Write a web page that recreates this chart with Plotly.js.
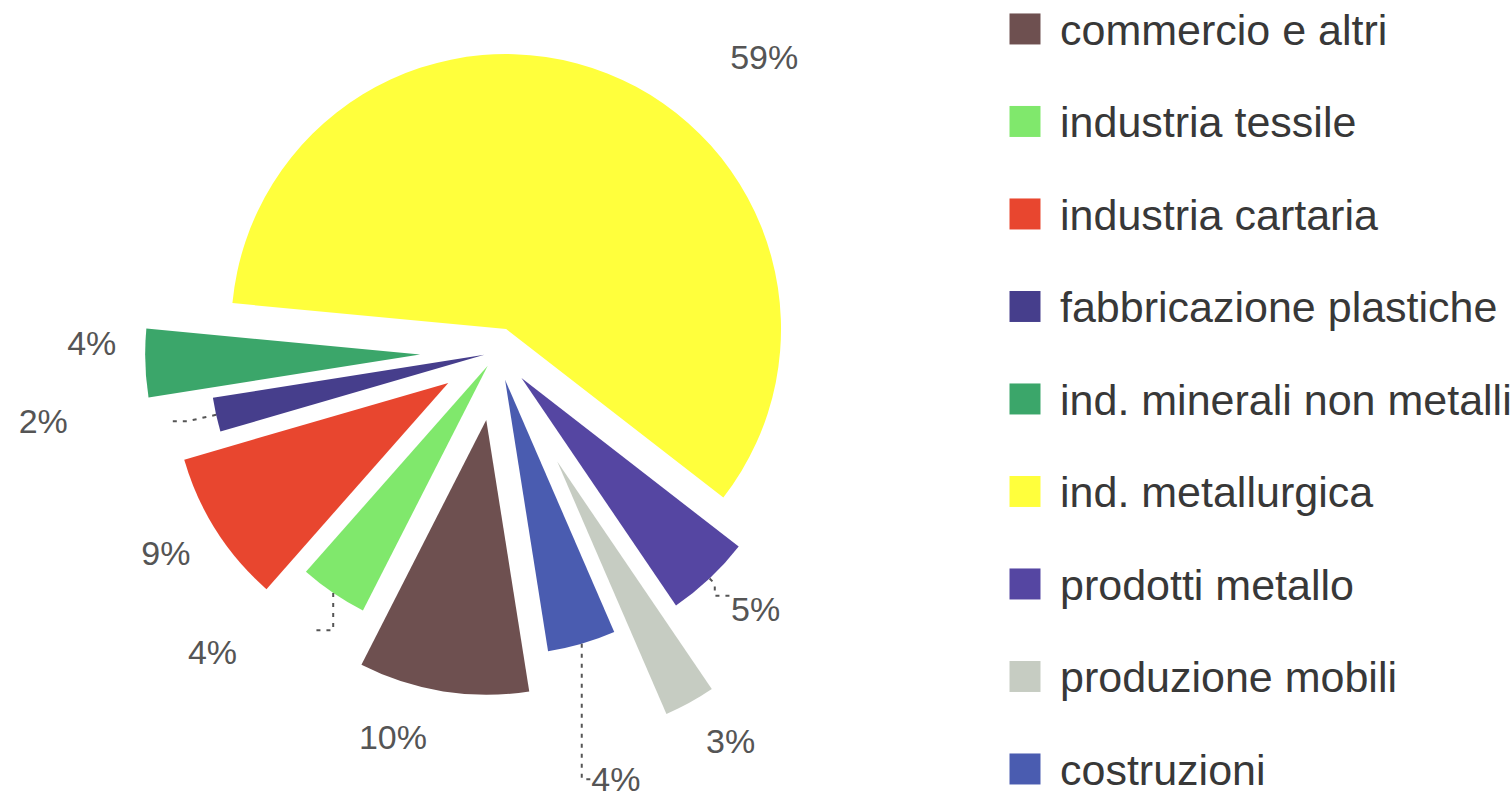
<!DOCTYPE html>
<html>
<head>
<meta charset="utf-8">
<script src="https://cdn.plot.ly/plotly-3.0.1.min.js"></script>
<style>
  html, body { margin: 0; padding: 0; background: #ffffff; overflow: hidden; width: 1512px; height: 802px; }
  #chart { position: absolute; left: 0; top: -48px; width: 1512px; height: 850px; }
  #chart path.textline { stroke-dasharray: 4 6; }
</style>
</head>
<body>
<div id="chart"></div>
<script>
// ---- data ----
const categories = [
  'commercio e altri',
  'industria tessile',
  'industria cartaria',
  'fabbricazione plastiche',
  'ind. minerali non metalli',
  'ind. metallurgica',
  'prodotti metallo',
  'produzione mobili',
  'costruzioni'
];
const shares = [10, 4, 9, 2, 4, 59, 5, 3, 4];

// ---- styling ----
const sliceColors = ['#6e5050', '#80e86c', '#e8462f', '#463e8c', '#3ba66a', '#ffff3c', '#5546a2', '#c6ccc2', '#4a5cb0'];
const slicePull = [0.25, 0.06, 0.21, 0.047, 0.28, 0.09, 0.13, 0.455, 0.105];
// spacing of the outside percent labels (non-breaking-space padding / spacer lines)
const padBefore = [0, 0, 0, 0, 0, 12, 0, 0, 0];
const padAfter  = [0, 8, 1, 11, 1, 0, 0, 0, 0];
const spacerAbove = ['small', 'full', 'small', '', '', '', 'small', 'small', ''];
const spacerBelow = ['', '', '', '', 'small', '', '', '', ''];

const NBSP = '\u00A0';
const SPACERS = {
  '': '',
  small: '<span style="font-size:16px">' + NBSP + '</span>',
  full: NBSP
};
const labelTemplates = shares.map((_, i) =>
  (spacerAbove[i] ? SPACERS[spacerAbove[i]] + '<br>' : '') +
  NBSP.repeat(padBefore[i]) + '%{percent}' + NBSP.repeat(padAfter[i]) +
  (spacerBelow[i] ? '<br>' + SPACERS[spacerBelow[i]] : ''));

const W = 1512, H = 850;
const LEG_MARK_X = 1025, LEG_TEXT_X = 1060;

const pie = {
  type: 'pie',
  labels: categories,
  values: shares,
  sort: false,
  direction: 'clockwise',
  rotation: 171,
  pull: slicePull,
  marker: { colors: sliceColors, line: { width: 0 } },
  texttemplate: labelTemplates,
  textposition: 'outside',
  outsidetextfont: { family: 'Liberation Sans, Arial, sans-serif', size: 34, color: '#555555' },
  domain: { x: [0, 994 / W], y: [50 / H, 1] },
  showlegend: false,
  hoverinfo: 'none'
};

const legendMarks = {
  type: 'scatter',
  mode: 'markers',
  x: categories.map(() => LEG_MARK_X),
  y: categories,
  marker: { symbol: 'square', size: 31, color: sliceColors, line: { width: 0 } },
  xaxis: 'x', yaxis: 'y',
  showlegend: false,
  hoverinfo: 'none'
};

const legendText = {
  type: 'scatter',
  mode: 'text',
  x: categories.map(() => LEG_TEXT_X),
  y: categories,
  text: categories,
  textposition: 'middle right',
  textfont: { family: 'Liberation Sans, Arial, sans-serif', size: 43, color: '#383838' },
  xaxis: 'x', yaxis: 'y2',
  showlegend: false,
  hoverinfo: 'none',
  cliponaxis: false
};

const layout = {
  width: W,
  height: H,
  margin: { l: 0, r: 0, t: 0, b: 0 },
  paper_bgcolor: '#ffffff',
  plot_bgcolor: 'rgba(0,0,0,0)',
  showlegend: false,
  xaxis: { domain: [907 / W, 1], range: [907, 1512], visible: false, fixedrange: true },
  yaxis: { domain: [0, 1], type: 'category', categoryarray: categories, range: [8.357, -0.832], visible: false, fixedrange: true },
  yaxis2: { overlaying: 'y', type: 'category', categoryarray: categories, range: [8.303, -0.886], visible: false, fixedrange: true }
};

Plotly.newPlot('chart', [pie, legendMarks, legendText], layout, { displayModeBar: false, staticPlot: true });
</script>
</body>
</html>
